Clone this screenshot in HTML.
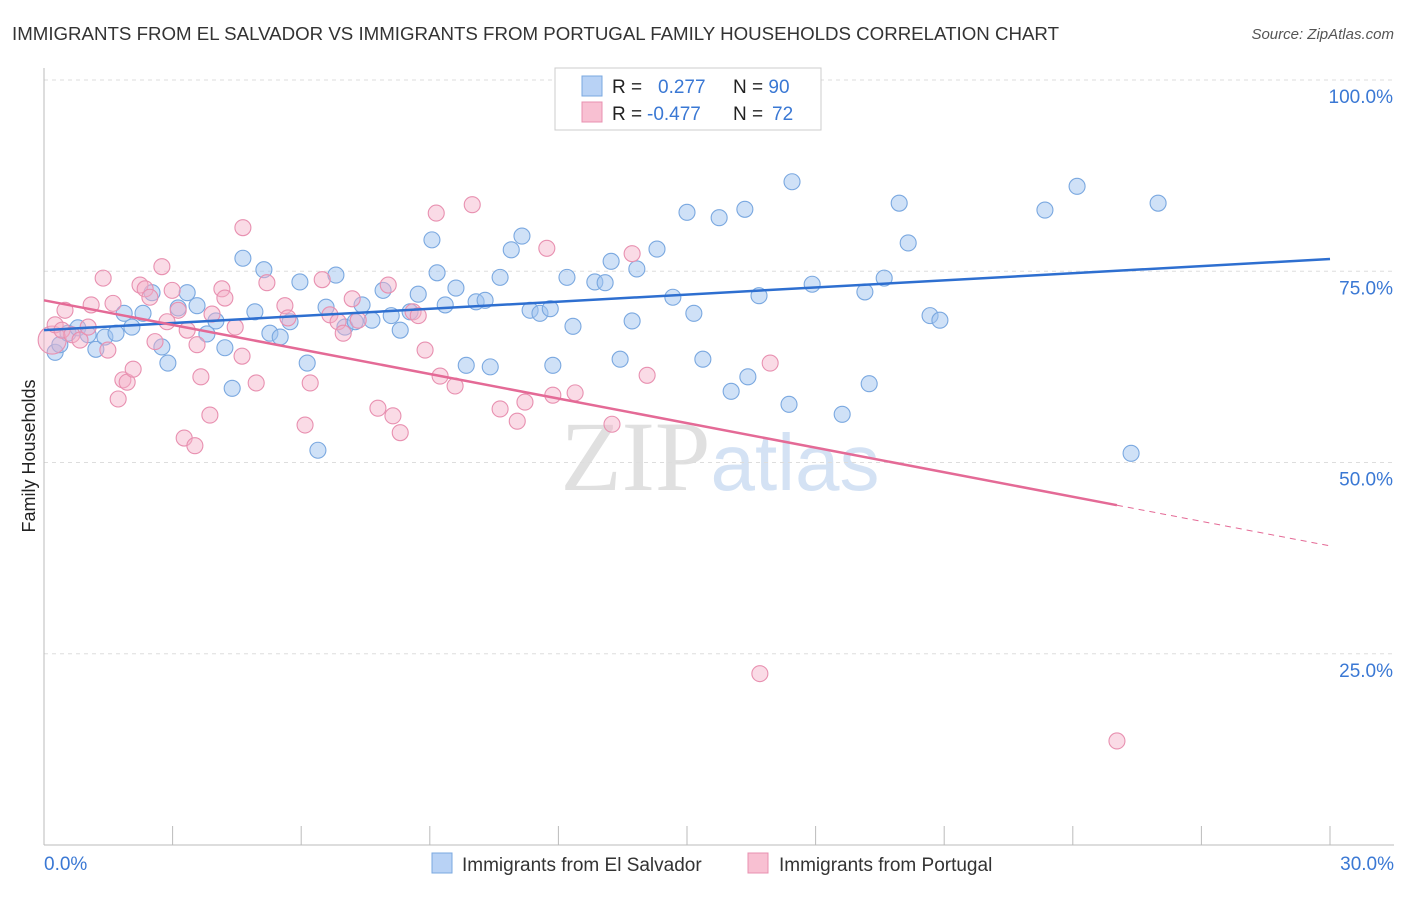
<!DOCTYPE html>
<html><head><meta charset="utf-8"><style>
body{margin:0;background:#fff;font-family:"Liberation Sans",sans-serif}
svg text{font-family:"Liberation Sans",sans-serif}
</style></head><body>
<svg id="c" width="1406" height="892" xmlns="http://www.w3.org/2000/svg">
<text x="12" y="40" font-size="18.7" fill="#333">IMMIGRANTS FROM EL SALVADOR VS IMMIGRANTS FROM PORTUGAL FAMILY HOUSEHOLDS CORRELATION CHART</text>
<text x="1394" y="39" font-size="15" fill="#555" text-anchor="end" font-style="italic">Source: ZipAtlas.com</text>
<text x="35" y="456" font-size="18" fill="#222" text-anchor="middle" transform="rotate(-90 35 456)">Family Households</text>
<text x="720" y="490" font-size="100" fill="#e2e2e2" text-anchor="middle" font-family="Liberation Serif"><tspan fill="#e0e0e0" font-family="Liberation Serif">ZIP</tspan><tspan fill="#d4e2f4" font-size="80">atlas</tspan></text>
<g id="grid"></g><g id="axes"></g><g id="pts"></g><g id="lines"></g>
<g>
<rect x="555" y="68" width="266" height="62" fill="#fff" stroke="#ccc"/>
<rect x="582" y="76" width="20" height="20" fill="#b8d2f5" stroke="#7aa8e0"/>
<rect x="582" y="102" width="20" height="20" fill="#f8c0d2" stroke="#e890b0"/>
<text x="612" y="93" font-size="19" fill="#222">R = <tspan fill="#3a78d4" x="658">0.277</tspan><tspan fill="#222" x="733">N = </tspan><tspan fill="#3a78d4">90</tspan></text>
<text x="612" y="120" font-size="19" fill="#222">R = <tspan fill="#3a78d4" x="647">-0.477</tspan><tspan fill="#222" x="733">N = </tspan><tspan fill="#3a78d4" x="772">72</tspan></text>
</g>
<g>
<rect x="432" y="853" width="20" height="20" fill="#b8d2f5" stroke="#7aa8e0"/>
<text x="462" y="871" font-size="19" fill="#333">Immigrants from El Salvador</text>
<rect x="748" y="853" width="20" height="20" fill="#f8c0d2" stroke="#e890b0"/>
<text x="779" y="871" font-size="19" fill="#333">Immigrants from Portugal</text>
</g>
</svg>
<script>
const blueX=[0.26,0.37,0.56,0.79,1.03,1.21,1.42,1.68,1.87,2.05,2.31,2.52,2.75,2.89,3.13,3.34,3.57,3.80,4.01,4.22,4.39,4.64,4.92,5.13,5.27,5.51,5.74,5.97,6.14,6.39,6.58,6.81,7.02,7.26,7.42,7.65,7.91,8.10,8.31,8.54,8.73,9.05,9.17,9.36,9.61,9.85,10.08,10.29,10.41,10.64,10.90,11.15,11.34,11.57,11.81,11.87,12.20,12.34,12.85,13.09,13.23,13.44,13.72,13.83,14.30,14.67,15.00,15.16,15.37,15.75,16.03,16.35,16.42,16.68,17.45,17.38,17.92,18.62,19.15,19.25,19.60,19.95,20.16,20.67,20.90,23.35,24.10,25.36,25.99];
const blueY=[64.4,65.4,66.9,67.6,66.7,64.8,66.4,66.9,69.5,67.7,69.5,72.2,65.1,63.0,70.2,72.2,70.5,66.8,68.5,65.0,59.7,76.7,69.7,75.2,66.9,66.4,68.4,73.6,63.0,51.6,70.3,74.5,67.7,68.4,70.6,68.6,72.5,69.2,67.3,69.7,72.0,79.1,74.8,70.6,72.8,62.7,71.0,71.2,62.5,74.2,77.8,79.6,69.9,69.5,70.1,62.7,74.2,67.8,73.6,73.5,76.3,63.5,68.5,75.3,77.9,71.6,82.7,69.5,63.5,82.0,59.3,83.1,61.2,71.8,86.7,57.6,73.3,56.3,72.3,60.3,74.1,83.9,78.7,69.2,68.6,83.0,86.1,51.2,83.9];
const pinkX=[0.19,0.26,0.42,0.49,0.65,0.84,1.03,1.10,1.38,1.49,1.61,1.73,1.84,1.94,2.08,2.24,2.36,2.47,2.59,2.75,2.87,2.99,3.13,3.27,3.34,3.52,3.57,3.66,3.87,3.92,4.15,4.22,4.46,4.64,4.62,4.95,5.20,5.62,5.69,6.09,6.21,6.49,6.67,6.86,6.98,7.19,7.33,7.79,8.03,8.14,8.31,8.61,8.73,8.89,9.15,9.24,9.59,9.99,10.64,11.04,11.22,11.73,11.87,12.39,12.62,13.25,13.72,14.07,16.70,16.94,25.03];
const pinkY=[66.0,68.0,67.3,69.9,66.7,66.0,67.7,70.6,74.1,64.7,70.8,58.3,60.8,60.5,62.2,73.2,72.7,71.6,65.8,75.6,68.4,72.5,69.9,53.2,67.3,52.2,65.4,61.2,56.2,69.4,72.7,71.5,67.7,80.7,63.9,60.4,73.5,70.5,68.9,54.9,60.4,73.9,69.3,68.4,66.9,71.4,68.6,57.1,73.2,56.1,53.9,69.7,69.2,64.7,82.6,61.3,60.0,83.7,57.0,55.4,57.9,78.0,58.8,59.1,95.0,55.0,77.3,61.4,22.4,63.0,13.6];
const blueTrend=[67.3,76.6];
const pinkTrend=[71.2,39.1];
const pinkSolidEnd=25.03;
const yTicks=[100,75,50,25];
const xTickLabels=["0.0%","30.0%"];
const X=v=>44+v/30*1286, Y=v=>845-v*7.65;
const NS="http://www.w3.org/2000/svg";
function mk(t,a,p){const e=document.createElementNS(NS,t);for(const k in a)e.setAttribute(k,a[k]);document.getElementById(p).appendChild(e);return e;}
yTicks.forEach(t=>{
 const l=mk('line',{x1:44,x2:1394,y1:Y(t),y2:Y(t),stroke:'#ddd','stroke-dasharray':'4,4'},'grid');
 
 
 const tx=mk('text',{x:1393,y:Y(t)+23,'font-size':19,fill:'#3a78d4','text-anchor':'end'},'grid');
 tx.textContent=t.toFixed(1)+'%';
 
 
});
let a=mk('line',{x1:44,x2:44,y1:68,y2:845,stroke:'#bbb'},'axes');

a=mk('line',{x1:44,x2:1394,y1:845,y2:845,stroke:'#bbb'},'axes');

for(let i=0;i<=10;i++){const tk=mk('line',{x1:X(i*3),x2:X(i*3),y1:826,y2:845,stroke:'#bbb'},'axes');
 
 }
let t0=mk('text',{x:44,y:870,'font-size':19,fill:'#3a78d4'},'axes');t0.textContent=xTickLabels[0];

let t1=mk('text',{x:1394,y:870,'font-size':19,fill:'#3a78d4','text-anchor':'end'},'axes');t1.textContent=xTickLabels[1];

blueX.forEach((x,i)=>{const c=mk('circle',{cx:X(x),cy:Y(blueY[i]),r:8,fill:'rgba(160,195,240,0.5)',stroke:'#7aa8e0','stroke-width':1.1},'pts');
 
 });
pinkX.forEach((x,i)=>{const c=mk('circle',{cx:X(x),cy:Y(pinkY[i]),r:i===0?14:8,fill:'rgba(245,175,200,0.45)',stroke:'#e890b0','stroke-width':1.1},'pts');
 
 });
let bl=mk('line',{x1:X(0),y1:Y(blueTrend[0]),x2:X(30),y2:Y(blueTrend[1]),stroke:'#2e6fd0','stroke-width':2.5},'lines');

const py=x=>pinkTrend[0]+(pinkTrend[1]-pinkTrend[0])*x/30;
let pl=mk('line',{x1:X(0),y1:Y(pinkTrend[0]),x2:X(pinkSolidEnd),y2:Y(py(pinkSolidEnd)),stroke:'#e46a96','stroke-width':2.5},'lines');

let pd=mk('line',{x1:X(pinkSolidEnd),y1:Y(py(pinkSolidEnd)),x2:X(30),y2:Y(pinkTrend[1]),stroke:'#e46a96','stroke-width':1,'stroke-dasharray':'6,5'},'lines');

</script>
</body></html>
